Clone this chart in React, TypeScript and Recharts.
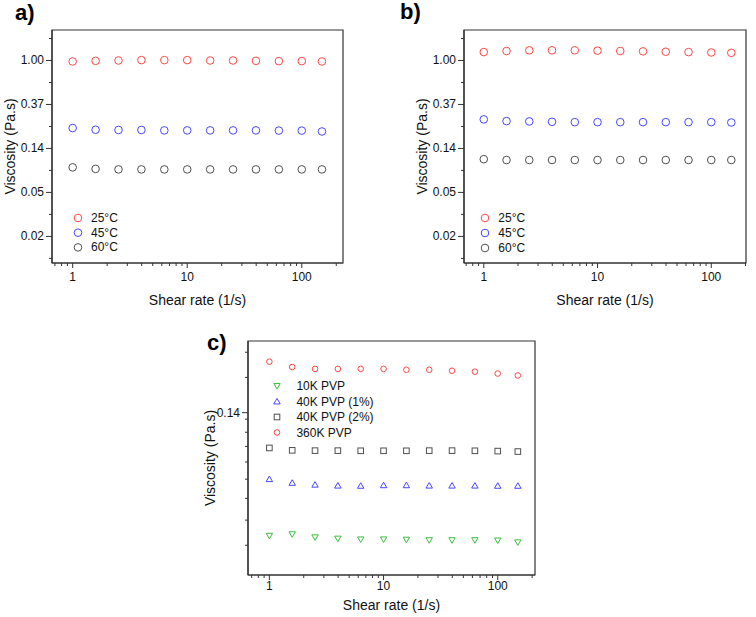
import React from 'react'
import {
  ScatterChart,
  Scatter,
  XAxis,
  YAxis,
  ReferenceArea,
  Legend
} from 'recharts'

const FONT = '"Liberation Sans", Arial, sans-serif'
const AXIS = '#333'

// shear rate points (1/s), shared by all panels
const shearRate = [1, 1.585, 2.512, 3.981, 6.31, 10, 15.85, 25.12, 39.81, 63.1, 100, 150]

// panel a
const viscA25 = [0.978, 0.992, 1.0, 1.008, 1.008, 1.008, 1.0, 1.0, 0.992, 0.985, 0.985, 0.978]
const viscA45 = [0.215, 0.207, 0.206, 0.206, 0.204, 0.204, 0.204, 0.204, 0.204, 0.203, 0.203, 0.199]
const viscA60 = [0.088, 0.085, 0.084, 0.084, 0.084, 0.084, 0.084, 0.084, 0.084, 0.084, 0.084, 0.084]

// panel b
const viscB25 = [1.21, 1.24, 1.26, 1.26, 1.26, 1.25, 1.24, 1.23, 1.22, 1.21, 1.2, 1.19]
const viscB45 = [0.262, 0.252, 0.25, 0.248, 0.246, 0.246, 0.246, 0.246, 0.246, 0.246, 0.246, 0.244]
const viscB60 = [0.106, 0.104, 0.104, 0.104, 0.104, 0.104, 0.104, 0.104, 0.104, 0.104, 0.104, 0.104]

// panel c
const visc10K = [0.0636, 0.0642, 0.063, 0.0625, 0.0622, 0.0622, 0.0621, 0.0619, 0.0619, 0.0619, 0.0618, 0.0611]
const visc40K1 = [0.09, 0.088, 0.087, 0.0865, 0.0864, 0.0867, 0.0867, 0.0865, 0.0865, 0.0865, 0.0864, 0.0864]
const visc40K2 = [0.109, 0.1074, 0.1072, 0.1072, 0.1071, 0.1071, 0.1071, 0.1072, 0.1072, 0.1071, 0.1069, 0.1066]
const visc360K = [0.185, 0.179, 0.177, 0.177, 0.177, 0.177, 0.176, 0.176, 0.175, 0.174, 0.172, 0.17]

const tempLabels = ['25°C', '45°C', '60°C']
const pvpLabels = ['10K PVP', '40K PVP (1%)', '40K PVP (2%)', '360K PVP']

// ticks (ln-scaled axes in a/b: e^-4 .. e^0)
const yMajorAB = [0.0183, 0.0498, 0.1353, 0.3679, 1.0]
const yMinorAB = [0.0111, 0.0302, 0.0821, 0.2231, 0.6065, 1.6487]
const yMajorC = [0.1353]
const yMinorC = [0.06, 0.07, 0.08, 0.09, 0.1, 0.11, 0.12, 0.13, 0.168, 0.196]
const xMajor = [1, 10, 100]
const xMinor = [0.7, 0.8, 0.9, 2, 3, 4, 5, 6, 7, 8, 9, 20, 30, 40, 50, 60, 70, 80, 90, 200]

const RED = '#ff4848'
const BLUE = '#4848ff'
const GREY = '#505050'
const GREEN = '#3cbf3c'

type Shape = 'circle' | 'square' | 'triangle' | 'triangleDown'

function Marker({ shape, cx, cy, color, size }: { shape: Shape; cx: number; cy: number; color: string; size: number }) {
  const common = { fill: 'none', stroke: color, strokeWidth: 1 }
  if (shape === 'square') {
    return <rect x={cx - size} y={cy - size} width={size * 2} height={size * 2} {...common} />
  }
  if (shape === 'triangle') {
    const h = size * 1.1
    return <polygon points={`${cx},${cy - h} ${cx - size * 1.15},${cy + h * 0.8} ${cx + size * 1.15},${cy + h * 0.8}`} {...common} />
  }
  if (shape === 'triangleDown') {
    const h = size * 1.1
    return <polygon points={`${cx},${cy + h} ${cx - size * 1.15},${cy - h * 0.8} ${cx + size * 1.15},${cy - h * 0.8}`} {...common} />
  }
  return <circle cx={cx} cy={cy} r={size} {...common} />
}

const toPoints = (ys: number[]) => shearRate.map((x, i) => ({ x, y: ys[i] }))

function XTick(props: any) {
  const { x, y, payload, majors, labelDy } = props
  const major = majors.includes(payload.value)
  return (
    <g>
      <line x1={x} x2={x} y1={y} y2={y + (major ? 5 : 3)} stroke={AXIS} strokeWidth={1} />
      {major && (
        <text x={x} y={y + labelDy} textAnchor="middle" dominantBaseline="central" fontSize={12} fill="#111" fontFamily={FONT}>
          {payload.value}
        </text>
      )}
    </g>
  )
}

function YTick(props: any) {
  const { x, y, payload, majors, labelDx } = props
  const major = majors.includes(payload.value)
  return (
    <g>
      <line x1={x} x2={x - (major ? 6 : 3)} y1={y} y2={y} stroke={AXIS} strokeWidth={1} />
      {major && (
        <text x={x - labelDx} y={y} textAnchor="end" dominantBaseline="central" fontSize={12} fill="#111" fontFamily={FONT}>
          {payload.value.toFixed(2)}
        </text>
      )}
    </g>
  )
}

interface Series {
  name: string
  values: number[]
  color: string
  shape: Shape
}

interface PanelProps {
  left: number
  top: number
  width: number
  height: number
  margin: { top: number; right: number; left: number; bottom: number }
  xDomain: [number, number]
  yDomain: [number, number]
  yMajor: number[]
  yMinor: number[]
  xAxisHeight: number
  xTickDy: number
  xLabelDy: number
  yTickDx: number
  yLabelDx: number
  series: Series[]
  markerSize: number
  legend: { x: number; y: number; gap: number; textDx: number }
}

function Panel(p: PanelProps) {
  const legendH = p.series.length * p.legend.gap + 16
  return (
    <div style={{ position: 'absolute', left: p.left, top: p.top }}>
      <ScatterChart width={p.width} height={p.height} margin={p.margin}>
        <XAxis
          type="number"
          dataKey="x"
          scale="log"
          domain={p.xDomain}
          allowDataOverflow
          ticks={[...xMajor, ...xMinor]}
          interval={0}
          tickSize={0}
          tickMargin={0}
          tickLine={false}
          tick={<XTick majors={xMajor} labelDy={p.xTickDy} />}
          axisLine={{ stroke: AXIS, strokeWidth: 1.2 }}
          height={p.xAxisHeight}
          label={(lp: any) => {
            const vb = lp.viewBox
            return (
              <text x={vb.x + vb.width / 2} y={vb.y + p.xLabelDy} textAnchor="middle" dominantBaseline="central" fontSize={14} fill="#111" fontFamily={FONT}>
                Shear rate (1/s)
              </text>
            )
          }}
        />
        <YAxis
          type="number"
          dataKey="y"
          scale="log"
          domain={p.yDomain}
          allowDataOverflow
          ticks={[...p.yMajor, ...p.yMinor]}
          interval={0}
          tickSize={0}
          tickMargin={0}
          tickLine={false}
          tick={<YTick majors={p.yMajor} labelDx={p.yTickDx} />}
          axisLine={{ stroke: AXIS, strokeWidth: 1.2 }}
          width={52}
          label={(lp: any) => {
            const vb = lp.viewBox
            const cx = vb.x + vb.width - p.yLabelDx
            const cy = vb.y + vb.height / 2
            return (
              <text x={cx} y={cy} transform={`rotate(-90 ${cx} ${cy})`} textAnchor="middle" dominantBaseline="central" fontSize={14} fill="#111" fontFamily={FONT}>
                Viscosity (Pa.s)
              </text>
            )
          }}
        />
        <ReferenceArea
          x1={p.xDomain[0]}
          x2={p.xDomain[1]}
          y1={p.yDomain[0]}
          y2={p.yDomain[1]}
          fill="none"
          stroke={AXIS}
          strokeWidth={1.2}
          ifOverflow="visible"
        />
        {p.series.map((s) => (
          <Scatter
            key={s.name}
            name={s.name}
            data={toPoints(s.values)}
            isAnimationActive={false}
            shape={(sp: any) => <Marker shape={s.shape} cx={sp.cx} cy={sp.cy} color={s.color} size={p.markerSize} />}
          />
        ))}
        <Legend
          layout="vertical"
          align="center"
          verticalAlign="middle"
          wrapperStyle={{ left: p.legend.x - 8, top: p.legend.y - 8, width: 140, height: legendH }}
          content={() => (
            <svg width={140} height={legendH} style={{ display: 'block' }}>
              {p.series.map((s, i) => (
                <g key={s.name}>
                  <Marker shape={s.shape} cx={8} cy={8 + i * p.legend.gap} color={s.color} size={p.markerSize} />
                  <text x={8 + p.legend.textDx} y={8 + i * p.legend.gap} dominantBaseline="central" fontSize={12} fill="#111" fontFamily={FONT}>
                    {s.name}
                  </text>
                </g>
              ))}
            </svg>
          )}
        />
      </ScatterChart>
    </div>
  )
}

const panelLabel = (text: string, left: number, top: number) => (
  <div style={{ position: 'absolute', left, top, fontFamily: FONT, fontWeight: 'bold', fontSize: 22, lineHeight: '24px', color: '#000' }}>{text}</div>
)

export default function App() {
  const seriesA: Series[] = [
    { name: tempLabels[0], values: viscA25, color: RED, shape: 'circle' },
    { name: tempLabels[1], values: viscA45, color: BLUE, shape: 'circle' },
    { name: tempLabels[2], values: viscA60, color: GREY, shape: 'circle' }
  ]
  const seriesB: Series[] = [
    { name: tempLabels[0], values: viscB25, color: RED, shape: 'circle' },
    { name: tempLabels[1], values: viscB45, color: BLUE, shape: 'circle' },
    { name: tempLabels[2], values: viscB60, color: GREY, shape: 'circle' }
  ]
  const seriesC: Series[] = [
    { name: pvpLabels[0], values: visc10K, color: GREEN, shape: 'triangleDown' },
    { name: pvpLabels[1], values: visc40K1, color: BLUE, shape: 'triangle' },
    { name: pvpLabels[2], values: visc40K2, color: GREY, shape: 'square' },
    { name: pvpLabels[3], values: visc360K, color: RED, shape: 'circle' }
  ]

  return (
    <div style={{ position: 'absolute', left: 0, top: 0, width: 756, height: 617, background: '#fff', fontFamily: FONT }}>
      {panelLabel('a)', 15, 1)}
      {panelLabel('b)', 400, 0)}
      {panelLabel('c)', 207, 331)}
      <Panel
        left={0}
        top={0}
        width={360}
        height={320}
        margin={{ top: 30, right: 17, left: 0, bottom: 0 }}
        xDomain={[0.66, 229]}
        yDomain={[0.01, 2]}
        yMajor={yMajorAB}
        yMinor={yMinorAB}
        xAxisHeight={57}
        xTickDy={14}
        xLabelDy={37}
        yTickDx={8}
        yLabelDx={42}
        series={seriesA}
        markerSize={3.8}
        legend={{ x: 77.7, y: 218.3, gap: 14.7, textDx: 13 }}
      />
      <Panel
        left={378}
        top={0}
        width={378}
        height={320}
        margin={{ top: 30, right: 10, left: 34, bottom: 0 }}
        xDomain={[0.67, 202]}
        yDomain={[0.01, 2]}
        yMajor={yMajorAB}
        yMinor={yMinorAB}
        xAxisHeight={57}
        xTickDy={14}
        xLabelDy={37}
        yTickDx={8}
        yLabelDx={42}
        series={seriesB}
        markerSize={3.8}
        legend={{ x: 106.7, y: 218, gap: 15, textDx: 13.3 }}
      />
      <Panel
        left={190}
        top={320}
        width={380}
        height={297}
        margin={{ top: 21, right: 35, left: 6, bottom: 0 }}
        xDomain={[0.65, 212]}
        yDomain={[0.05, 0.21]}
        yMajor={yMajorC}
        yMinor={yMinorC}
        xAxisHeight={42}
        xTickDy={11}
        xLabelDy={30}
        yTickDx={8}
        yLabelDx={38}
        series={seriesC}
        markerSize={2.8}
        legend={{ x: 87.3, y: 65.7, gap: 15.5, textDx: 19.4 }}
      />
    </div>
  )
}
